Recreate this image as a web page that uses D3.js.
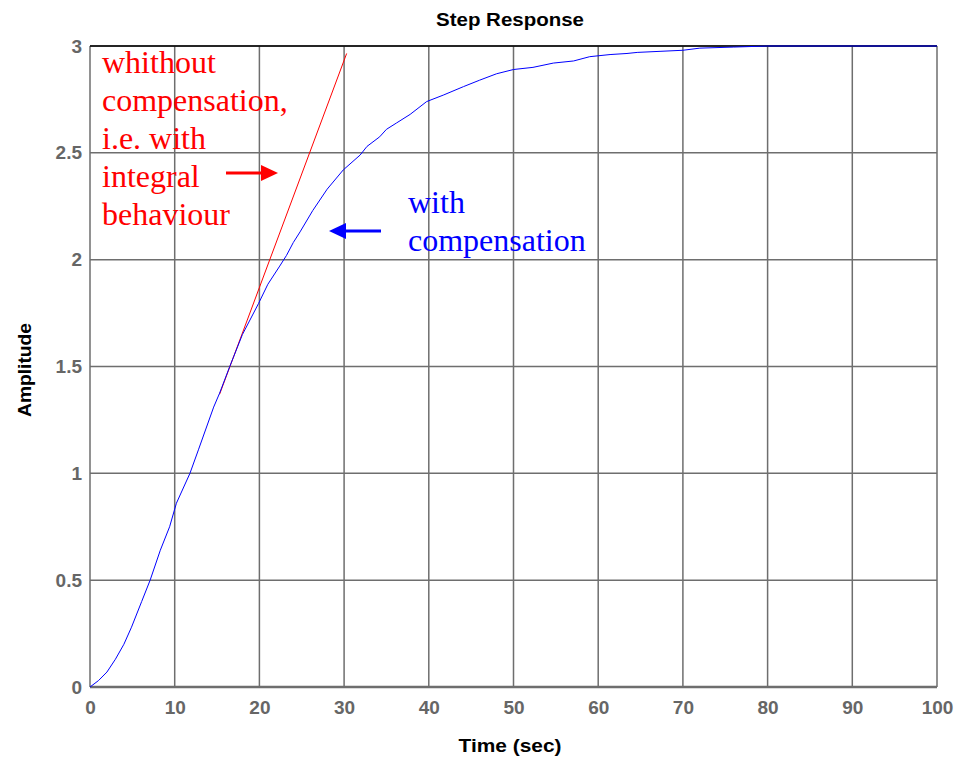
<!DOCTYPE html>
<html>
<head>
<meta charset="utf-8">
<script src="https://cdn.jsdelivr.net/npm/d3@7"></script>
<style>
  body { margin: 0; background: #fff; }
</style>
</head>
<body>
<svg id="chart" width="960" height="758" font-family="Liberation Sans, Arial, sans-serif"></svg>
<script>
// step response with compensation
const timeWith = [0, 1, 2, 3, 4, 4.9, 6.1, 7.1, 8.3, 9.4, 10.2, 11.8, 12.8, 14.6, 15.3, 16.5, 18, 19.9, 21, 22.4, 23.2, 24, 24.8, 26.3, 28, 29.9, 31.9, 32.7, 34.2, 35, 36.2, 37.8, 39.75, 41.7, 44.1, 46, 48, 50, 52.3, 54.7, 57.1, 59, 61.4, 63.4, 64.6, 67.3, 70, 72, 76, 80, 90, 100];
const ampWith  = [0, 0.03, 0.07, 0.13, 0.2, 0.28, 0.4, 0.5, 0.64, 0.75, 0.86, 1.0, 1.11, 1.31, 1.375, 1.5, 1.65, 1.795, 1.885, 1.97, 2.02, 2.08, 2.13, 2.23, 2.33, 2.42, 2.49, 2.53, 2.575, 2.61, 2.64, 2.68, 2.74, 2.77, 2.81, 2.84, 2.87, 2.89, 2.9, 2.92, 2.93, 2.95, 2.96, 2.965, 2.97, 2.975, 2.98, 2.99, 2.995, 3.0, 3.0, 3.0];
// without compensation: integral behaviour (straight ramp)
const timeWithout = [15.3, 30.3];
const ampWithout  = [1.37, 2.965];

const xTicks = [0, 10, 20, 30, 40, 50, 60, 70, 80, 90, 100];
const yTicks = [0, 0.5, 1, 1.5, 2, 2.5, 3];

const redLabel  = ["whithout", "compensation,", "i.e. with", "integral", "behaviour"];
const blueLabel = ["with", "compensation"];

const svg = d3.select("#chart");
const margin = { left: 90, right: 23, top: 46, bottom: 71 };
const W = 960, H = 758;

const x = d3.scaleLinear().domain([0, 100]).range([margin.left, W - margin.right]);
const y = d3.scaleLinear().domain([0, 3]).range([H - margin.bottom, margin.top]);

// grid
const grid = svg.append("g").attr("stroke", "#6e6e6e").attr("stroke-width", 1.5);
grid.selectAll(".vg").data(xTicks).join("line")
  .attr("x1", d => x(d)).attr("x2", d => x(d))
  .attr("y1", y(0)).attr("y2", y(3));
grid.selectAll(".hg").data(yTicks).join("line")
  .attr("x1", x(0)).attr("x2", x(100))
  .attr("y1", d => y(d)).attr("y2", d => y(d));

// top border is black
svg.append("line")
  .attr("x1", x(0)).attr("x2", x(100))
  .attr("y1", y(3)).attr("y2", y(3))
  .attr("stroke", "#000").attr("stroke-width", 1.5);
// bottom axis a bit heavier
svg.append("line")
  .attr("x1", x(0)).attr("x2", x(100))
  .attr("y1", y(0)).attr("y2", y(0))
  .attr("stroke", "#6e6e6e").attr("stroke-width", 2.5);

// tick labels
const xAxis = d3.axisBottom(x).tickValues(xTicks).tickSize(0).tickPadding(14);
svg.append("g")
  .attr("transform", `translate(0,${y(0)})`)
  .call(xAxis)
  .call(g => g.select(".domain").remove())
  .call(g => g.selectAll("text")
    .attr("fill", "#666").attr("font-size", 19).attr("font-weight", "bold")
    .attr("font-family", "Liberation Sans, Arial, sans-serif"));

const yAxis = d3.axisLeft(y).tickValues(yTicks).tickSize(0).tickPadding(8).tickFormat(d3.format("~g"));
svg.append("g")
  .attr("transform", `translate(${x(0)},0)`)
  .call(yAxis)
  .call(g => g.select(".domain").remove())
  .call(g => g.selectAll("text")
    .attr("fill", "#666").attr("font-size", 19).attr("font-weight", "bold")
    .attr("font-family", "Liberation Sans, Arial, sans-serif"));

// curves
const line = d3.line().x(d => x(d[0])).y(d => y(d[1]));
svg.append("path")
  .datum(d3.zip(timeWithout, ampWithout))
  .attr("d", line)
  .attr("fill", "none").attr("stroke", "#ff0000").attr("stroke-width", 1);
svg.append("path")
  .datum(d3.zip(timeWith, ampWith))
  .attr("d", line)
  .attr("fill", "none").attr("stroke", "#0000ff").attr("stroke-width", 1);

// titles
svg.append("text").attr("x", 510).attr("y", 26)
  .attr("text-anchor", "middle").attr("font-size", 18).attr("font-weight", "bold")
  .attr("textLength", 148).attr("lengthAdjust", "spacingAndGlyphs")
  .text("Step Response");
svg.append("text").attr("x", 510).attr("y", 752)
  .attr("text-anchor", "middle").attr("font-size", 18).attr("font-weight", "bold")
  .attr("textLength", 103).attr("lengthAdjust", "spacingAndGlyphs")
  .text("Time (sec)");
svg.append("text")
  .attr("transform", "translate(31,370) rotate(-90)")
  .attr("text-anchor", "middle").attr("font-size", 18).attr("font-weight", "bold")
  .attr("textLength", 94).attr("lengthAdjust", "spacingAndGlyphs")
  .text("Amplitude");

// annotations
const serif = "Liberation Serif, 'Times New Roman', serif";
svg.append("text")
  .attr("font-family", serif).attr("font-size", 32).attr("fill", "#ff0000")
  .selectAll("tspan").data(redLabel).join("tspan")
  .attr("x", 102).attr("y", (d, i) => 73 + i * 38).text(d => d);
svg.append("text")
  .attr("font-family", serif).attr("font-size", 32).attr("fill", "#0000ff")
  .selectAll("tspan").data(blueLabel).join("tspan")
  .attr("x", 408).attr("y", (d, i) => 213 + i * 38).text(d => d);

// arrows
function arrow(x0, x1, yy, color) {
  const dir = Math.sign(x1 - x0);
  const headLen = 17, headHalf = 8;
  svg.append("line")
    .attr("x1", x0).attr("x2", x1 - dir * headLen)
    .attr("y1", yy).attr("y2", yy)
    .attr("stroke", color).attr("stroke-width", 3);
  svg.append("path")
    .attr("d", `M${x1},${yy} L${x1 - dir * headLen},${yy - headHalf} L${x1 - dir * headLen},${yy + headHalf} Z`)
    .attr("fill", color);
}
arrow(226, 278, 173, "#ff0000");
arrow(381, 329, 231, "#0000ff");
</script>
</body>
</html>
